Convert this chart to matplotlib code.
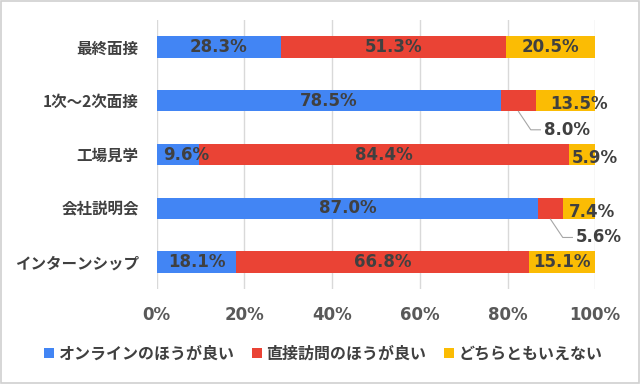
import numpy as np
import matplotlib.pyplot as plt
from matplotlib.patches import Rectangle

plt.rcParams['font.family'] = ['Noto Sans CJK JP', 'DejaVu Sans']
plt.rcParams['font.weight'] = 'bold'
NUM = ['DejaVu Sans']

categories = ['最終面接', '1次～2次面接', '工場見学', '会社説明会', 'インターンシップ']
online = [28.3, 78.5, 9.6, 87.0, 18.1]
visit = [51.3, 8.0, 84.4, 5.6, 66.8]
neither = [20.5, 13.5, 5.9, 7.4, 15.1]
series_names = ['オンラインのほうが良い', '直接訪問のほうが良い', 'どちらともいえない']
colors = ['#4285F4', '#EA4335', '#FBBC04']
txt = '#404040'

fig = plt.figure(figsize=(6.4, 3.84), dpi=100)
ax = fig.add_axes([0.245, 0.247, 0.685, 0.701])
fig.patches.append(Rectangle((0.002, 0.003), 0.996, 0.994, transform=fig.transFigure,
                             fill=False, edgecolor='#d0d0d0', linewidth=1.2))

y = np.arange(len(categories))[::-1]
data = [online, visit, neither]
left = np.zeros(len(categories))
for vals, c, name in zip(data, colors, series_names):
    ax.barh(y, vals, left=left, height=0.4, color=c, label=name, zorder=3)
    left = left + np.array(vals)

# data labels
lab = dict(ha='center', va='center', fontsize=12, color=txt, fontweight='bold',
           family=NUM, zorder=5)
for i in range(len(categories)):
    o, v, n = online[i], visit[i], neither[i]
    ax.text(o / 2 if o > 15 else o / 2 + 2, y[i], f'{o:.1f}%', **lab)
    if v > 15:
        ax.text(o + v / 2, y[i], f'{v:.1f}%', **lab)
    if n >= 15:
        ax.text(o + v + n / 2, y[i], f'{n:.1f}%', **lab)
    else:
        ax.text(o + v + n / 2 + 3, y[i] - 0.07, f'{n:.1f}%', **lab)
    if v < 15:
        x0 = o + v / 2
        ax.plot([x0, x0 + 2.8, x0 + 5], [y[i] - 0.2, y[i] - 0.54, y[i] - 0.54],
                color='#a6a6a6', lw=0.8, zorder=4)
        ax.text(x0 + 5.8, y[i] - 0.54, f'{v:.1f}%', ha='left', va='center',
                fontsize=12, color=txt, fontweight='bold', family=NUM)

ax.set_xlim(0, 100)
ax.set_ylim(-0.5, len(categories) - 0.5)
ax.set_yticks(y)
ax.set_yticklabels(categories, fontsize=11.2, color=txt)
ax.set_xticks(np.arange(0, 101, 20))
ax.set_xticklabels([f'{t}%' for t in range(0, 101, 20)], fontsize=12, color='#595959',
                   family=NUM)
ax.tick_params(axis='x', length=0, pad=12)
ax.tick_params(axis='y', length=0, pad=13)
ax.grid(axis='x', color='#d9d9d9', linewidth=1, zorder=0)
for s in ax.spines.values():
    s.set_visible(False)

leg = fig.legend(loc='center', bbox_to_anchor=(0.505, 0.08), ncol=3, frameon=False,
                 fontsize=11.5, handlelength=0.6, handleheight=0.6, handletextpad=0.3,
                 columnspacing=1.1)
for t in leg.get_texts():
    t.set_color(txt)

plt.savefig('out.png')
